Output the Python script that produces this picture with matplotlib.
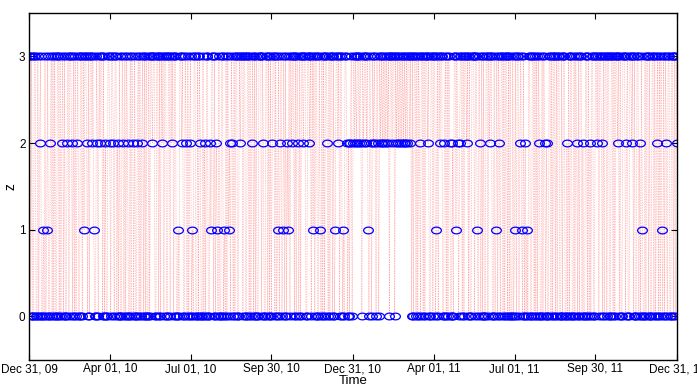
import numpy as np
import pandas as pd
import matplotlib
matplotlib.use("Agg")
import matplotlib.pyplot as plt
from matplotlib.path import Path

plt.rcParams['font.family'] = ['Liberation Sans', 'DejaVu Sans']

# daily state z (3/0 background, groups of 10 days)
base_states = """
3303003300 3033003030 3300330303 0033030330 3003303300
3030330033 0303300303 3033003303 0330303003 3303300330
3030033030 3300303303 0033030330 3030030330 3300330303
0303300330 3030330030 3303003303 0330303300 3033003030
3300303303 0330300330 3030330033 0303300303 3033003303
0330303003 3303300330 3030033030 3300303303 0033030330
3030030330 3300330303 0303300330 3030330030 3303003303
0330303300
3033033030 3303303033 0330330303 3033033333 3333330330 3303033333 3333333330
3030330303 0033030330 3003303300 3030330033 0303300303
3033003303 0330303003 3303300330 3030033030 3300303303
0033030330 3030030330 3300330303 0303300330 3030330030
3303003303 0330303300 3033003030 3300303303 0330300330
3030330033 0303300303 3033003303 0330303003 3303300330
3030033030 3300303303 0033030330 3030030330 3300330303
3
"""

# days (counted from Dec 31, 2009) where z = 2
days_two = [12, 24, 37, 43, 48, 54, 65, 71, 77, 80, 86, 91, 95, 100, 106, 111,
            117, 122, 127, 139, 150, 161, 172, 177, 181, 193, 198, 204, 211,
            226, 229, 238, 251, 264, 274, 283, 291, 296, 303, 309, 316, 336,
            348, 358, 360, 362, 365, 367, 369, 372, 374, 377, 380, 385, 388,
            390, 393, 396, 398, 400, 402, 404, 409, 414, 416, 418, 420, 422,
            424, 426, 429, 440, 449, 463, 468, 474, 477, 483, 485, 493, 508,
            519, 530, 553, 559, 575, 581, 583, 606, 617, 624, 632, 640, 645,
            663, 673, 679, 688, 707, 718, 730]
# days where z = 1
days_one = [16, 20, 62, 73, 168, 184, 205, 212, 220, 225, 280, 286, 292, 320,
            328, 345, 354, 382, 459, 481, 505, 526, 547, 555, 561, 691, 713]

tick_dates = ['2009-12-31', '2010-04-01', '2010-07-01', '2010-09-30',
              '2010-12-31', '2011-04-01', '2011-07-01', '2011-09-30',
              '2011-12-31']
tick_labels = ['Dec 31, 09', 'Apr 01, 10', 'Jul 01, 10', 'Sep 30, 10',
               'Dec 31, 10', 'Apr 01, 11', 'Jul 01, 11', 'Sep 30, 11',
               'Dec 31, 11']

z = np.array([int(c) for c in base_states if c.isdigit()], dtype=float)
z[days_two] = 2
z[days_one] = 1
dates = pd.date_range('2009-12-31', periods=len(z), freq='D')

# matlab-ish 'o' that came out stretched sideways
t = np.linspace(0, 2 * np.pi, 41)
ellipse = Path(np.column_stack([1.45 * np.cos(t), np.sin(t)]), closed=True)

fig = plt.figure(figsize=(6.97, 3.86), dpi=100)
ax = fig.add_axes([0.0416, 0.068, 0.9297, 0.898])

ax.plot(dates, z, color='red', linestyle=':', linewidth=0.45, alpha=0.5)
ax.plot(dates, z, linestyle='none', marker=ellipse, markersize=7,
        markerfacecolor='none', markeredgecolor='blue', markeredgewidth=0.9)

ax.set_xlim(pd.Timestamp(tick_dates[0]), pd.Timestamp(tick_dates[-1]))
ax.set_ylim(-0.5, 3.5)
ax.set_xticks(pd.to_datetime(tick_dates))
ax.set_xticklabels(tick_labels)
ax.set_yticks([0, 1, 2, 3])
ax.tick_params(direction='in', top=True, right=True, length=4,
               labelsize=8.5, width=0.8, pad=2.5)
for s in ax.spines.values():
    s.set_linewidth(1.0)

ax.set_xlabel('Time', fontsize=9.5, labelpad=0)
ax.set_ylabel('z', fontsize=10, labelpad=1)

fig.savefig('out.png', dpi=100)
